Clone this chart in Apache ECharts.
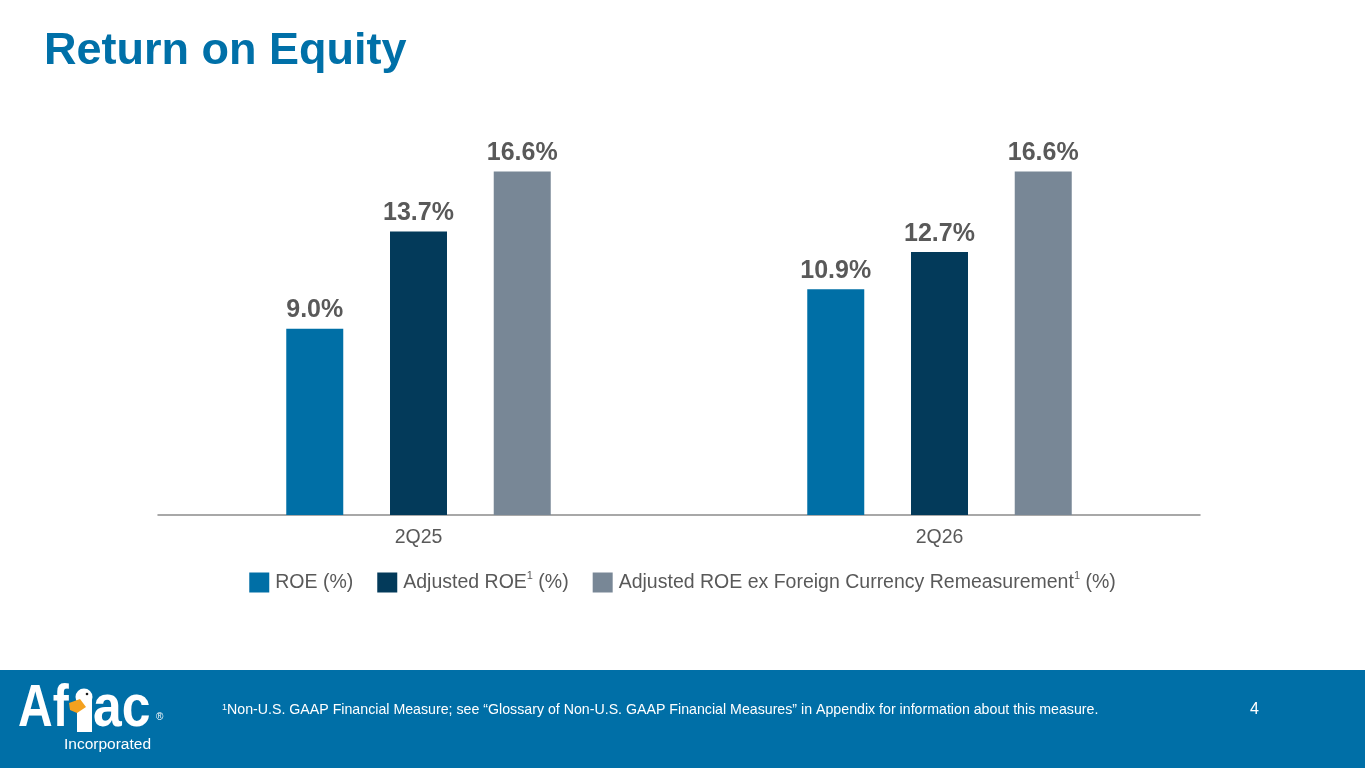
<!DOCTYPE html>
<html>
<head>
<meta charset="utf-8">
<title>Return on Equity</title>
<script src="https://cdn.jsdelivr.net/npm/echarts@6/dist/echarts.min.js"></script>
<style>
  html, body { margin: 0; padding: 0; background: #ffffff; }
  #roe_chart { width: 1365px; height: 768px; }
</style>
</head>
<body>
<div id="roe_chart"></div>
<script>
// chart data
var quarters = ['2Q25', '2Q26'];
var roe = [9.0, 10.9];
var adjRoe = [13.7, 12.7];
var adjRoeExFx = [16.6, 16.6];
var seriesNames = ['ROE (%)', 'Adjusted ROE (%)', 'Adjusted ROE ex Foreign Currency Remeasurement (%)'];
var legendLabels = ['ROE (%)', 'Adjusted ROE{sup|1} (%)', 'Adjusted ROE ex Foreign Currency Remeasurement{sup|1} (%)'];

var font = '"Liberation Sans", Arial, sans-serif';
var blue = '#0070a8';

var chartDom_roe = document.getElementById('roe_chart');
var myChart_roe = echarts.init(chartDom_roe);

var barLabel = {
    show: true,
    position: 'top',
    distance: 6,
    fontFamily: font,
    fontSize: 25,
    fontWeight: 'bold',
    color: '#595959',
    formatter: function (p) { return p.value.toFixed(1) + '%'; }
};

var option_roe = {
    animation: false,
    backgroundColor: '#ffffff',
    title: {
        text: 'Return on Equity',
        left: 39,
        top: 24,
        textStyle: { color: blue, fontFamily: font, fontSize: 45, fontWeight: 'bold' }
    },
    grid: { left: 158, right: 165, top: 101, bottom: 253 },
    legend: {
        data: seriesNames,
        left: 'center',
        top: 565,
        icon: 'rect',
        itemWidth: 20,
        itemHeight: 20,
        itemGap: 24,
        formatter: function (name) { return legendLabels[seriesNames.indexOf(name)]; },
        textStyle: {
            fontFamily: font,
            fontSize: 19.5,
            color: '#595959',
            padding: [0, 0, 0, 1],
            rich: {
                sup: { fontFamily: font, fontSize: 11, color: '#595959', verticalAlign: 'top', padding: [0, 0, 14, 0] }
            }
        }
    },
    xAxis: {
        type: 'category',
        data: quarters,
        axisLine: { lineStyle: { color: '#8c8c8c', width: 1.5 } },
        axisTick: { show: false },
        axisLabel: { fontFamily: font, fontSize: 19.5, color: '#595959', margin: 13 }
    },
    yAxis: {
        type: 'value',
        min: 0,
        max: 20,
        show: false,
        splitLine: { show: false }
    },
    series: [
        { name: seriesNames[0], type: 'bar', data: roe, barWidth: 57, barGap: '82%', itemStyle: { color: '#006fa6' }, label: barLabel },
        { name: seriesNames[1], type: 'bar', data: adjRoe, barWidth: 57, barGap: '82%', itemStyle: { color: '#033a5a' }, label: barLabel },
        { name: seriesNames[2], type: 'bar', data: adjRoeExFx, barWidth: 57, barGap: '82%', itemStyle: { color: '#788796' }, label: barLabel }
    ],
    graphic: [
        // footer band
        { type: 'rect', left: 0, top: 670, shape: { width: 1365, height: 98 }, style: { fill: '#006fa7' }, z: 0 },
        {
            type: 'text', left: 222, top: 703, z: 2,
            style: {
                text: '{s|1}Non-U.S. GAAP Financial Measure; see \u201cGlossary of Non-U.S. GAAP Financial Measures\u201d in Appendix for information about this measure.',
                fill: '#ffffff', font: '14.2px ' + font,
                rich: { s: { fontSize: 9, fill: '#ffffff', fontFamily: font, padding: [0, 0, 5, 0] } }
            }
        },
        { type: 'text', left: 1250, top: 702, z: 2, style: { text: '4', fill: '#ffffff', font: '16px ' + font } },
        // logo
        { type: 'text', x: 18, y: 679, scaleX: 0.8, z: 2, style: { text: 'Af', fill: '#ffffff', font: 'bold 60px ' + font } },
        { type: 'text', x: 93, y: 679, scaleX: 0.86, z: 2, style: { text: 'ac', fill: '#ffffff', font: 'bold 60px ' + font } },
        { type: 'rect', z: 3, shape: { x: 77, y: 698, width: 15, height: 34, r: [2, 2, 0, 0] }, style: { fill: '#ffffff' } },
        { type: 'circle', z: 3, shape: { cx: 84, cy: 697, r: 8.5 }, style: { fill: '#ffffff' } },
        { type: 'polygon', z: 4, shape: { points: [[80, 699], [69, 703], [70, 710], [77, 713], [86, 707]] }, style: { fill: '#f4a11f' } },
        { type: 'circle', z: 4, shape: { cx: 87, cy: 694, r: 1.3 }, style: { fill: '#1b1b1b' } },
        { type: 'text', left: 156, top: 712, z: 2, style: { text: '\u00ae', fill: '#ffffff', font: '10px ' + font } },
        { type: 'text', left: 64, top: 737, z: 2, style: { text: 'Incorporated', fill: '#ffffff', font: '15.5px ' + font } }
    ]
};

option_roe && myChart_roe.setOption(option_roe);
</script>
</body>
</html>
